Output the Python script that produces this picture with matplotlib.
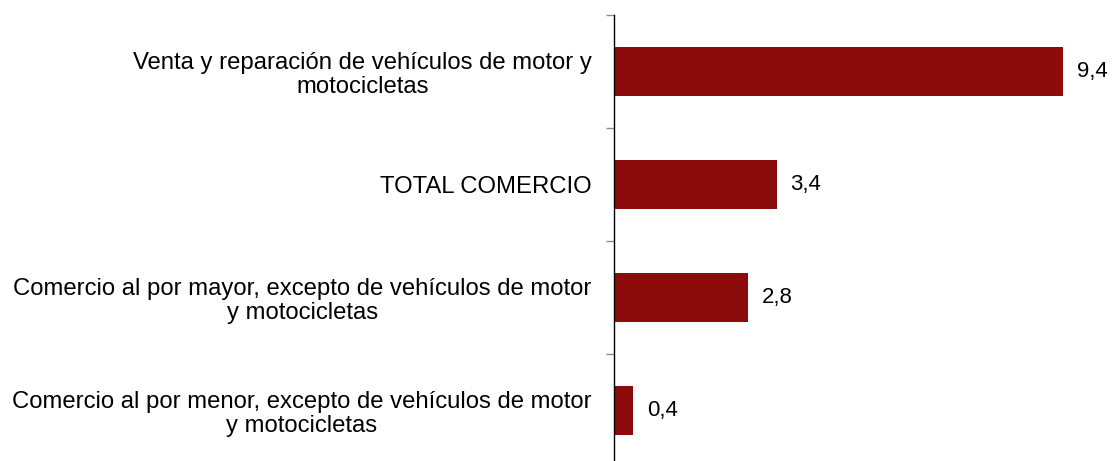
import numpy as np
import matplotlib.pyplot as plt

plt.rcParams['font.family'] = ['Liberation Sans', 'DejaVu Sans']

categories = [
    "Venta y reparación de vehículos de motor y\nmotocicletas",
    "TOTAL COMERCIO",
    "Comercio al por mayor, excepto de vehículos de motor\ny motocicletas",
    "Comercio al por menor, excepto de vehículos de motor\ny motocicletas",
]
values = [9.4, 3.4, 2.8, 0.4]

bar_color = '#8C0B0B'

fig = plt.figure(figsize=(11.12, 4.61), dpi=100)
ax = fig.add_axes([614 / 1112, -6 / 461, 10 * 47.8 / 1112, 452 / 461])

y = np.arange(len(categories))
ax.barh(y, values, height=0.44, color=bar_color, edgecolor='none')

for yi, v in zip(y, values):
    ax.annotate(f"{v:.1f}".replace('.', ','), xy=(v, yi), xytext=(10, 0),
                textcoords='offset points', ha='left', va='center',
                fontsize=16, color='black')

ax.set_xlim(0, 10)
ax.set_ylim(len(categories) - 0.5, -0.5)

# category boundaries get the tick marks, centres get the labels
ax.set_yticks(np.arange(len(categories) + 1) - 0.5)
ax.set_yticklabels([])
ax.set_yticks(y, minor=True)
ax.set_yticklabels(categories, minor=True, fontsize=17.2, ha='right',
                   multialignment='center', linespacing=1.12)
ax.tick_params(axis='y', which='major', length=5.5, width=1, color='#8c8c8c',
               direction='out')
ax.tick_params(axis='y', which='minor', length=0, pad=16)
ax.set_xticks([])

for s in ['top', 'right', 'bottom']:
    ax.spines[s].set_visible(False)
ax.spines['left'].set_color('black')
ax.spines['left'].set_linewidth(1.0)

plt.savefig("out.png", dpi=100)
